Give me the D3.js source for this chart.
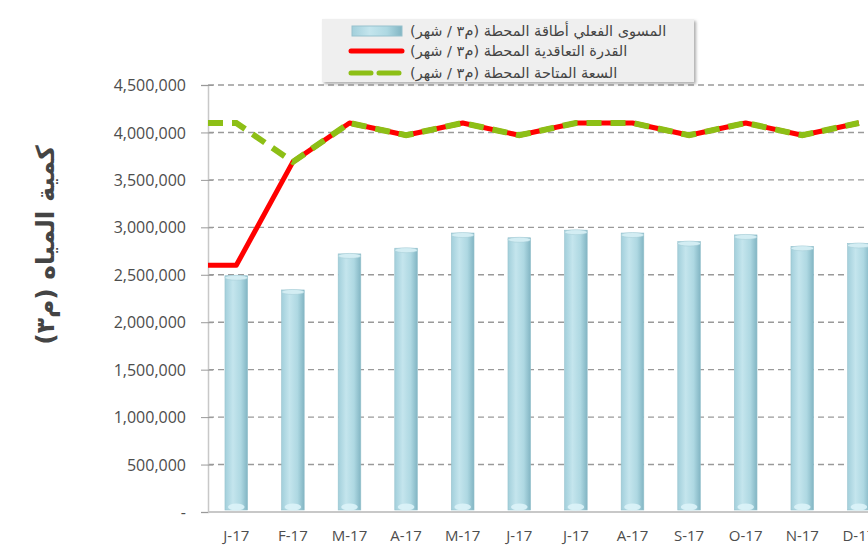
<!DOCTYPE html>
<html lang="ar">
<head>
    <meta charset="UTF-8">
    <title>Water quantity chart</title>
    <script src="https://cdnjs.cloudflare.com/ajax/libs/d3/7.8.5/d3.min.js"></script>
    <style>
        body { margin: 0; background: #fff; overflow: hidden; }
        svg { display: block; }
        .tick text { font-family: "Open Sans", sans-serif; fill: #4d4d4d; }
    </style>
</head>
<body>
<svg width="868" height="547"></svg>
<script>
    // data
    const months = ["J-17", "F-17", "M-17", "A-17", "M-17", "J-17", "J-17", "A-17", "S-17", "O-17", "N-17", "D-17"];
    const actual = [2490000, 2340000, 2720000, 2780000, 2940000, 2890000, 2970000, 2940000, 2850000, 2920000, 2800000, 2830000];
    const contracted = [2600000, 3690000, 4100000, 3970000, 4100000, 3970000, 4100000, 4100000, 3970000, 4100000, 3970000, 4100000];
    const available = [4100000, 3690000, 4100000, 3970000, 4100000, 3970000, 4100000, 4100000, 3970000, 4100000, 3970000, 4100000];
    const yTicks = [0, 500000, 1000000, 1500000, 2000000, 2500000, 3000000, 3500000, 4000000, 4500000];
    const legendLabels = [
        "المسوى الفعلي أطاقة المحطة (م٣ / شهر)",
        "القدرة التعاقدية المحطة (م٣ / شهر)",
        "السعة المتاحة المحطة (م٣ / شهر)"
    ];
    const yTitle = "كمية المياه (م٣)";

    const svg = d3.select("svg");
    const plotLeft = 208, plotTop = 85, plotBottom = 512;
    const step = 56.6;

    const x = d3.scaleBand().domain(d3.range(months.length))
        .range([plotLeft, plotLeft + step * months.length]).paddingInner(0.6).paddingOuter(0.3);
    const cx = i => x(i) + x.bandwidth() / 2;
    const y = d3.scaleLinear().domain([0, 4500000]).range([plotBottom, plotTop]);

    const defs = svg.append("defs");
    const grad = defs.append("linearGradient").attr("id", "barGrad");
    grad.append("stop").attr("offset", "0%").attr("stop-color", "#a2cfdb");
    grad.append("stop").attr("offset", "35%").attr("stop-color", "#c4e5ed");
    grad.append("stop").attr("offset", "70%").attr("stop-color", "#aed8e2");
    grad.append("stop").attr("offset", "100%").attr("stop-color", "#82b5c3");
    const sh = defs.append("filter").attr("id", "shadow").attr("x", "-5%").attr("y", "-10%").attr("width", "115%").attr("height", "130%");
    sh.append("feDropShadow").attr("dx", 2).attr("dy", 2).attr("stdDeviation", 1.5).attr("flood-color", "#777").attr("flood-opacity", 0.6);

    // gridlines
    svg.append("g").selectAll("line").data(yTicks.filter(d => d > 0)).join("line")
        .attr("x1", plotLeft).attr("x2", 868)
        .attr("y1", d => y(d)).attr("y2", d => y(d))
        .attr("stroke", "#9a9a9a").attr("stroke-width", 1.4).attr("stroke-dasharray", "6,4");

    // y axis
    const yAxis = svg.append("g").attr("transform", `translate(${plotLeft},0)`)
        .call(d3.axisLeft(y).tickValues(yTicks).tickSize(7).tickPadding(15)
            .tickFormat(d => d === 0 ? "-" : d3.format(",")(d)));
    yAxis.select(".domain").attr("stroke", "#c8c8c8").attr("stroke-width", 1.5);
    yAxis.selectAll(".tick line").attr("stroke", "#999").attr("x2", -7).attr("x1", 5);
    yAxis.selectAll(".tick text").attr("font-size", 16).attr("dy", "0.35em");

    // x axis baseline
    svg.append("line").attr("x1", plotLeft).attr("x2", 868).attr("y1", plotBottom).attr("y2", plotBottom)
        .attr("stroke", "#c8c8c8").attr("stroke-width", 2);

    svg.append("g").selectAll("text").data(months).join("text")
        .attr("x", (d, i) => cx(i)).attr("y", 541)
        .attr("text-anchor", "middle")
        .attr("font-family", "Open Sans, sans-serif").attr("font-size", 15).attr("fill", "#4d4d4d")
        .text(d => d);

    // bars
    const bars = svg.append("g");
    bars.selectAll("rect").data(actual).join("rect")
        .attr("x", (d, i) => x(i)).attr("width", x.bandwidth())
        .attr("y", d => y(d)).attr("height", d => plotBottom - 2 - y(d))
        .attr("fill", "url(#barGrad)").attr("stroke", "#97c2ce").attr("stroke-width", 0.6);
    bars.selectAll("ellipse.cap").data(actual).join("ellipse").attr("class", "cap")
        .attr("cx", (d, i) => cx(i)).attr("cy", d => y(d) + 2)
        .attr("rx", x.bandwidth() / 2).attr("ry", 2.5)
        .attr("fill", "#d3edf3").attr("stroke", "#a3cbd5").attr("stroke-width", 0.5);
    bars.selectAll("ellipse.base").data(actual).join("ellipse").attr("class", "base")
        .attr("cx", (d, i) => cx(i)).attr("cy", plotBottom - 5)
        .attr("rx", x.bandwidth() / 2 - 3).attr("ry", 3.5)
        .attr("fill", "#dcf3f8").attr("opacity", 0.9);

    // lines: start at the axis with the first month's value
    const linePts = vals => [[plotLeft, y(vals[0])]].concat(vals.map((v, i) => [cx(i), y(v)]));
    const line = d3.line();
    svg.append("path").attr("d", line(linePts(contracted)))
        .attr("fill", "none").attr("stroke", "#ff0000").attr("stroke-width", 5)
        .attr("stroke-linejoin", "round");
    svg.append("path").attr("d", line(linePts(available)))
        .attr("fill", "none").attr("stroke", "#8dbf16").attr("stroke-width", 6)
        .attr("stroke-dasharray", "15,9");

    // legend
    const lg = svg.append("g");
    lg.append("rect").attr("x", 322).attr("y", 19).attr("width", 372).attr("height", 63)
        .attr("fill", "#efefef").attr("filter", "url(#shadow)");
    const rows = [31, 51, 73];
    lg.append("rect").attr("x", 352).attr("y", rows[0] - 5).attr("width", 50).attr("height", 10)
        .attr("fill", "url(#barGrad)").attr("stroke", "#97c2ce");
    lg.append("line").attr("x1", 351).attr("x2", 402).attr("y1", rows[1]).attr("y2", rows[1])
        .attr("stroke", "#ff0000").attr("stroke-width", 5).attr("stroke-linecap", "round");
    lg.append("line").attr("x1", 351).attr("x2", 402).attr("y1", rows[2]).attr("y2", rows[2])
        .attr("stroke", "#8dbf16").attr("stroke-width", 5).attr("stroke-linecap", "round")
        .attr("stroke-dasharray", "20,8");
    lg.selectAll("text").data(legendLabels).join("text")
        .attr("x", 410).attr("y", (d, i) => rows[i])
        .attr("direction", "rtl").attr("text-anchor", "end").attr("dy", "0.35em")
        .attr("font-family", "DejaVu Sans, sans-serif").attr("font-size", 14.5).attr("fill", "#444")
        .text(d => d);

    // y title
    svg.append("text").attr("transform", "translate(54,245) rotate(-90)")
        .attr("direction", "rtl").attr("text-anchor", "middle")
        .attr("font-family", "DejaVu Sans, sans-serif").attr("font-weight", "bold")
        .attr("font-size", 25).attr("fill", "#444")
        .text(yTitle);
</script>
</body>
</html>
